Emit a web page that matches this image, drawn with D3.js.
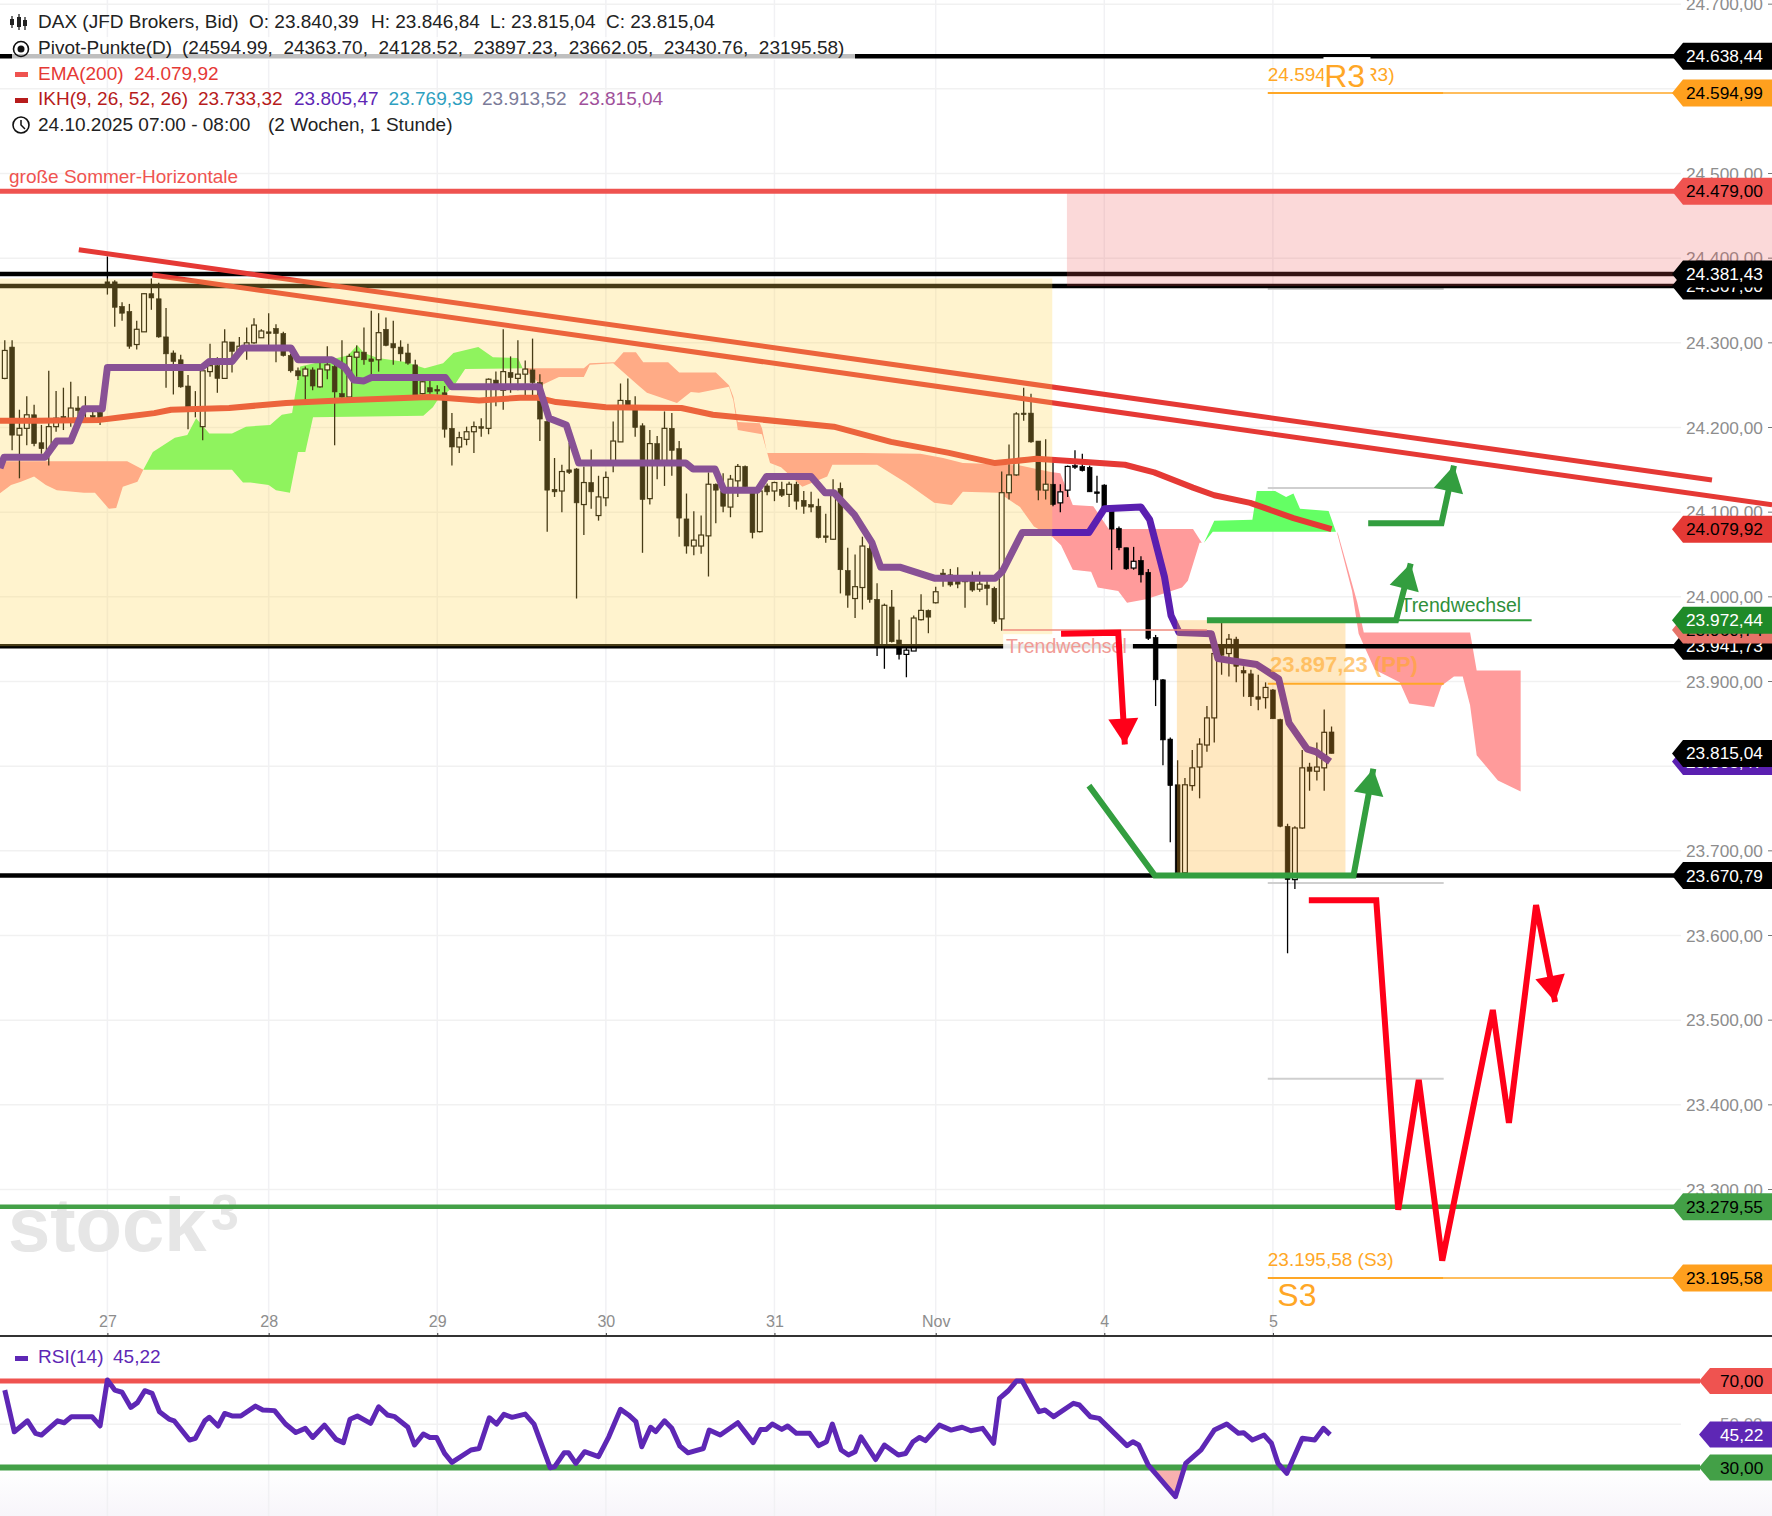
<!DOCTYPE html>
<html>
<head>
<meta charset="utf-8">
<title>DAX</title>
<script src="https://d3js.org/d3.v7.min.js"></script>
<style>
html, body { margin: 0; padding: 0; background: #fff; }
svg { display: block; }
text { font-family: "Liberation Sans", sans-serif; white-space: pre; }
</style>
</head>
<body>
<div id="chart"></div>
<script>
// hourly candles, bar number = position in the list
var candleOpen = [24258,24295,24191,24199,24215,24182,24171,24201,24213,24210,24223,24222,24214,24218,24372,24372,24343,24337,24298,24313,24358,24352,24307,24288,24280,24249,24222,24201,24266,24273,24258,24301,24291,24295,24300,24306,24313,24317,24311,24285,24267,24261,24268,24248,24268,24272,24240,24236,24283,24289,24281,24280,24316,24299,24295,24288,24274,24240,24247,24245,24241,24199,24177,24186,24195,24201,24199,24256,24244,24265,24258,24263,24268,24253,24207,24127,24125,24150,24151,24109,24135,24096,24117,24158,24183,24232,24221,24202,24116,24181,24161,24199,24175,24092,24060,24060,24072,24133,24125,24106,24137,24154,24125,24077,24131,24125,24127,24121,24133,24114,24109,24107,24072,24068,24128,24031,23998,24011,24057,23997,23942,23988,23949,23932,23936,23973,23984,23993,24028,24026,24024,24018,24018,24009,24014,24010,23974,24123,24144,24217,24217,24184,24126,24133,24111,24126,24155,24154,24153,24124,24132,24103,24081,24058,24034,24043,24029,23952,23902,23832,23778,23674,23777,23799,23825,23857,23943,23933,23950,23913,23909,23882,23881,23890,23855,23729,23666,23727,23799,23794,23798,23840.39];
var candleHigh = [24303,24303,24221,24237,24227,24203,24267,24243,24247,24254,24237,24237,24222,24224,24402,24374,24348,24346,24326,24359,24376,24371,24341,24291,24286,24262,24243,24267,24299,24283,24316,24301,24307,24318,24329,24316,24335,24322,24313,24287,24271,24272,24271,24283,24296,24281,24303,24287,24297,24318,24338,24335,24330,24326,24303,24299,24280,24262,24262,24250,24249,24217,24195,24201,24207,24211,24258,24266,24316,24284,24303,24279,24305,24263,24213,24164,24156,24182,24152,24154,24174,24143,24148,24207,24252,24258,24237,24205,24197,24190,24219,24217,24184,24122,24101,24096,24147,24134,24146,24144,24157,24155,24126,24130,24134,24136,24136,24136,24136,24125,24124,24116,24098,24139,24135,24058,24050,24071,24067,24016,23992,24008,23973,23942,23978,24003,23985,24012,24033,24033,24035,24024,24030,24030,24020,24012,24148,24180,24218,24247,24240,24184,24186,24165,24133,24155,24173,24169,24155,24143,24133,24105,24083,24058,24059,24048,24033,23955,23903,23834,23807,23786,23819,23833,23871,23935,23970,23956,23953,23918,23914,23908,23899,23891,23856,23732,23729,23819,23804,23828,23867,23846.84];
var candleLow = [24257,24173,24140,24179,24178,24169,24155,24195,24197,24201,24206,24206,24207,24203,24357,24319,24326,24293,24292,24313,24339,24306,24247,24239,24247,24198,24212,24185,24260,24241,24258,24265,24287,24280,24299,24306,24297,24277,24284,24265,24256,24232,24244,24247,24257,24179,24235,24235,24260,24274,24262,24266,24296,24274,24278,24274,24237,24239,24240,24239,24188,24155,24170,24179,24170,24189,24192,24225,24221,24241,24244,24238,24237,24184,24077,24118,24100,24145,23998,24073,24104,24090,24107,24147,24183,24221,24189,24052,24109,24139,24131,24143,24071,24051,24049,24051,24024,24087,24100,24094,24118,24126,24069,24076,24120,24113,24118,24106,24103,24098,24100,24069,24064,24067,24004,23987,23975,23985,23993,23930,23915,23946,23926,23905,23936,23972,23957,23992,24012,24012,24010,23987,24006,24006,23990,23968,23960,24115,24143,24208,24182,24114,24115,24107,24100,24118,24151,24148,24124,24111,24105,24032,24055,24032,24032,24017,23949,23871,23801,23710,23673,23673,23771,23762,23817,23828,23908,23906,23899,23882,23871,23866,23868,23856,23728,23579,23655,23726,23771,23783,23771,23815.04];
var candleClose = [24291,24191,24199,24215,24181,24175,24201,24211,24210,24223,24220,24221,24212,24210,24367,24342,24335,24296,24316,24358,24353,24307,24287,24278,24248,24223,24220,24267,24273,24258,24301,24290,24296,24300,24321,24314,24311,24311,24285,24267,24261,24269,24249,24269,24274,24242,24236,24284,24289,24280,24278,24312,24297,24294,24287,24276,24238,24254,24242,24243,24198,24177,24188,24195,24201,24199,24257,24251,24266,24259,24263,24269,24253,24210,24126,24124,24148,24147,24111,24135,24124,24118,24141,24184,24232,24221,24200,24115,24181,24161,24199,24173,24093,24060,24067,24073,24133,24126,24107,24139,24154,24130,24076,24125,24124,24135,24120,24133,24113,24107,24106,24070,24070,24125,24032,24002,24012,24060,23997,23942,23990,23947,23932,23937,23975,23984,23976,24006,24021,24014,24015,24022,24008,24015,24010,23971,24123,24144,24216,24216,24183,24126,24133,24109,24124,24154,24153,24149,24124,24122,24106,24080,24058,24033,24042,24026,23951,23902,23831,23777,23674,23778,23798,23826,23857,23933,23931,23950,23918,23910,23882,23879,23893,23856,23729,23666,23727,23798,23794,23799,23840,23815.04];

// [bar, price]
var emaLine = [[-0.65,24208],[4.3,24208],[13,24209],[15.9,24212],[20.4,24217],[22.7,24221],[30.6,24223],[38.4,24229],[45.6,24232],[57.9,24236],[59.8,24235],[64.7,24232],[70.3,24235],[72.8,24235],[75.2,24230],[82,24224],[92.3,24223],[96.6,24215],[113.1,24201],[120.9,24183],[128.8,24170],[135.1,24158],[139.5,24162],[140.7,24163],[147.9,24159],[152.8,24156],[156.8,24147],[162.1,24129],[165,24120],[169.9,24111],[175.8,24093],[181,24079.92]];
var ikhLine = [[-0.65,24152],[-0.1,24165],[5.5,24165],[7.1,24184],[9,24184],[10.8,24222],[13.3,24222],[14,24271],[26.9,24271],[27.9,24278],[31,24278],[32.5,24294],[39.05,24294],[40,24280],[44.6,24280],[46.4,24271],[47.6,24256],[49,24255],[50,24259],[60.1,24259],[61,24248],[72.9,24248],[74.25,24211],[76.6,24203],[78.3,24158],[92.9,24158],[93.9,24151],[96.9,24151],[98.1,24126],[102.7,24126],[103.9,24142],[110,24142],[111.9,24123],[113.1,24123],[115.9,24097],[118.3,24064],[119.5,24035],[122.1,24035],[126.8,24022],[135.1,24022],[136.1,24030],[138.8,24076],[147.9,24076],[150,24104],[155,24106],[156.2,24091],[158.2,24024],[159.1,23978],[160.2,23958],[164.6,23956.5],[165.5,23927],[170.8,23920],[173.8,23903],[175.2,23851],[177.7,23820],[178.9,23817],[180.8,23805.47]];

var cloudRed1 = [[-1,24160],[16.7,24160],[18.9,24150],[18.1,24136],[16.1,24130],[15.2,24105],[14.2,24104],[12.3,24123],[10.8,24123],[7.1,24126],[5.6,24132],[4,24142],[2.2,24136],[0.85,24132],[-1,24120]];
var cloudGreen1 = [[18.9,24150],[20.2,24171],[23.2,24188],[24.9,24191],[26.1,24211],[27.9,24193],[31,24193],[32.9,24201],[36.2,24203],[37.8,24215],[39.2,24217],[39.9,24254],[40.3,24272],[46.8,24285],[48.1,24297],[49,24288],[50.9,24282],[54.9,24277],[55.8,24274],[57.3,24270],[59.8,24276],[61.2,24288],[64.6,24295],[66.6,24283],[70,24282],[70.6,24271],[70.6,24270],[62.8,24269],[61.2,24248],[59,24232],[58.4,24224],[57.1,24214],[42.05,24212],[41,24171],[40,24171],[38.9,24123],[37,24126],[36,24132],[33.5,24135],[32.5,24135],[31,24150]];
var cloudRed2 = [[70.8,24270],[79,24270],[79.8,24276],[83.2,24277],[84.4,24289],[86.1,24289],[87.1,24277],[90.5,24277],[92,24265],[97,24265],[98.8,24250],[99.4,24236],[100,24206.5],[103,24205],[103.3,24199],[104,24170],[116.7,24170],[124.9,24169],[128,24164],[130.7,24158],[134.8,24157],[138.5,24155],[142.7,24147.5],[144,24146],[145.7,24108.6],[148.5,24107],[150.6,24080],[162.1,24080],[163.3,24064],[163,24064],[161.4,24019],[160.6,24011],[155.7,23997],[153.1,23993],[151.9,24007],[149.1,24011],[148.2,24029.6],[145.7,24032],[144.1,24061],[142.9,24071],[140.4,24083],[138.5,24106],[135.6,24123],[130.7,24124],[129.2,24108.6],[126.8,24111],[123,24134.5],[119,24156],[112.9,24156],[112.2,24142],[108.8,24130],[105.9,24153],[104.4,24158],[103.3,24192],[100,24197],[99.4,24232],[98.8,24248],[94.7,24241],[93.6,24242],[91.7,24229],[87.6,24241],[86.4,24250],[83,24276],[79.8,24274],[79,24259.5],[75.6,24259.5],[73.2,24250]];
var cloudGreen2 = [[163.6,24064],[165,24090],[170.2,24091],[170.8,24125],[173.3,24125],[174.8,24118],[175.8,24122],[176.7,24104],[180.6,24101.5],[181.6,24077],[164.8,24077]];
var cloudRed3 = [[181.8,24077],[183,24040],[184.5,23994],[185.4,23958],[199.9,23958],[200.8,23913],[206.8,23913],[206.8,23770],[203.7,23783],[200.8,23813],[199.9,23872],[198.9,23906],[197.7,23906],[196,23895],[195,23870],[191.6,23874],[190.3,23899],[186.9,23914],[184.7,23956.5],[183.8,24007],[181.8,24074]];

var rsiLine = [[0,65.8],[1.3,46.5],[3.1,51.6],[4.2,45.8],[5,45],[7.2,51.6],[8.1,50.7],[9.1,53.5],[11.9,53.5],[13,49.2],[14,70.5],[15,65.8],[16,64.8],[17.2,57.8],[18.1,60],[19.1,65.5],[20.1,64.3],[21.1,55.8],[22.4,52.4],[23.1,51.6],[25.2,42.7],[26,43.5],[27.3,51.6],[27.9,53.2],[29.1,49.2],[30,55],[31.1,53.8],[32.2,53.8],[34.2,58.4],[35.2,56.6],[36.8,56.3],[38.3,50.1],[39.7,46.2],[41,48.1],[42,43.9],[43.6,49.6],[45.2,43],[46.2,41.5],[47.1,52.3],[48.1,53.8],[49.9,50.4],[51,58.1],[52.2,54.3],[53.2,53.5],[55,48.6],[55.9,40.4],[57.1,45.5],[58,43.9],[58.9,43.9],[60,36.5],[61,32.4],[63.6,38.1],[64.7,38.8],[66.1,53],[67.1,50.1],[68.1,54.6],[69.2,53.2],[71,54.7],[72.2,50.1],[74.4,29.9],[75,30.3],[76.3,36.8],[76.9,36.8],[77.9,31.9],[79.1,37.3],[81,35],[82.4,44.2],[84,56.9],[85.1,54.3],[86.1,51.2],[86.9,39.6],[88.1,48.6],[88.8,46.6],[90,51.6],[91,48.1],[92.1,39.9],[93.2,36.8],[95.3,38.8],[96.1,47.3],[97.6,45],[100,50.7],[102.1,41.5],[103.1,47.6],[103.9,47.6],[104.7,50.1],[106,47.6],[106.8,49.2],[108,45.8],[109.8,45.8],[111,40.1],[112.1,41.9],[112.9,50.1],[114.1,38.1],[115.1,35.8],[116,37.3],[116.8,44.2],[118.8,33.7],[120,40.4],[121.9,35.8],[122.9,36.5],[123.9,41.9],[124.8,43.9],[125.6,42.4],[127.5,49.6],[129.1,47.3],[130.6,48.6],[131.8,47],[133.4,48.1],[134.9,41.2],[135.7,62],[136.9,65.5],[138,70],[138.8,70],[141.1,55.8],[141.9,56.6],[143.1,53.5],[145.8,59.7],[146.6,58.9],[148.1,53.5],[149.3,52.7],[153.1,40.1],[153.9,41.9],[154.7,40.4],[156,31.1],[159.7,16.5],[161.1,31.9],[163.2,38.1],[165,47.3],[166.7,50.1],[168.3,45.8],[169,46.1],[170.2,42.7],[171.8,45],[172.8,41.2],[173.7,31.9],[174.9,27.3],[177,43.5],[178.7,42.7],[179.9,48.1],[180.8,45.22]];

// axes
var dayBars = [14,36,59,82,105,127,150,173];
var dayLabels = ["27","28","29","30","31","Nov","4","5"];
var priceTicks = [24700,24600,24500,24400,24300,24200,24100,24000,23900,23800,23700,23600,23500,23400,23300,23200];

// drawn trend lines and arrows
var trendUpper = [[10.1,24410],[232.9,24138]];
var trendLower = [[20.15,24380],[241.1,24108.6]];
var arrowGreenTop = [[186,24087],[196,24087],[197.7,24155]];
var arrowGreenMid = [[164,23972.44],[189.8,23972.44],[191.8,24039.5]];
var arrowGreenLow = [[147.9,23777],[156.9,23670.79],[184,23670.79],[186.7,23797]];
var arrowRedDown = [[144.1,23956.5],[151.9,23957.7],[152.8,23825.6]];
var arrowRedZigzag = [[177.9,23641.7],[187.1,23641.7],[190.1,23276],[192.9,23429.5],[196.1,23216],[203,23512],[205.2,23378.8],[208.9,23635.8],[211.5,23521.5]];

// pivot points
var pivotGray = [24363.70,24128.52,23662.05,23430.76];
var pivotOrange = [24594.99,23897.23,23195.58];
var pivotFrom = 172.3, pivotTo = 196.3;

var width = 1772, height = 1516;

var x = d3.scaleLinear().domain([14,173]).range([107.4,1272.9]);
var y = d3.scaleLinear().domain([24500,23300]).range([173.5,1189.5]);
var yRsi = d3.scaleLinear().domain([70,30]).range([1381,1467.5]);

var de = d3.formatLocale({decimal:",", thousands:".", grouping:[3], currency:["",""]});
var fmt = de.format(",.2f");

var svg = d3.select("#chart").append("svg").attr("width", width).attr("height", height);

var defs = svg.append("defs");
var grad = defs.append("linearGradient").attr("id","fade").attr("x1",0).attr("x2",0).attr("y1",0).attr("y2",1);
grad.append("stop").attr("offset",0).attr("stop-color","#fff");
grad.append("stop").attr("offset",1).attr("stop-color","#f7f5fa");
defs.append("clipPath").attr("id","oversold").append("rect")
    .attr("x",0).attr("width",width).attr("y",yRsi(30)).attr("height",height-yRsi(30));

svg.append("rect").attr("x",0).attr("y",1470).attr("width",width).attr("height",46).attr("fill","url(#fade)");

// grid
svg.selectAll(".vgrid").data(dayBars).enter().append("line")
    .attr("x1",function(d){ return x(d); }).attr("x2",function(d){ return x(d); })
    .attr("y1",0).attr("y2",height)
    .attr("stroke","#f1f1f4").attr("stroke-width",1.5);
svg.selectAll(".hgrid").data(priceTicks.slice(0,-1)).enter().append("line")
    .attr("x1",0).attr("x2",1681)
    .attr("y1",function(d){ return y(d); }).attr("y2",function(d){ return y(d); })
    .attr("stroke","#f1f1f1").attr("stroke-width",1.5);
svg.append("line").attr("x1",0).attr("x2",1681).attr("y1",yRsi(50)).attr("y2",yRsi(50))
    .attr("stroke","#f1f1f1").attr("stroke-width",1.5);

// price axis
var yAxis = svg.append("g").attr("transform","translate(1686,0)")
    .call(d3.axisRight(y).tickValues(priceTicks.slice(0,-1)).tickSize(0).tickPadding(0).tickFormat(fmt));
yAxis.select(".domain").remove();
yAxis.selectAll("text").attr("font-size",17.3).attr("fill","#8d8d8d").style("font-family",'"Liberation Sans"');
svg.selectAll(".ydash").data(priceTicks.slice(0,-1)).enter().append("line")
    .attr("x1",1768).attr("x2",1772)
    .attr("y1",function(d){ return y(d); }).attr("y2",function(d){ return y(d); })
    .attr("stroke","#777");
svg.append("text").attr("x",1720).attr("y",yRsi(50)+6).attr("font-size",17).attr("fill","#999").text("50,00");

// watermark
svg.append("text").attr("x",8).attr("y",1251).attr("font-size",76).attr("font-weight","bold")
    .attr("fill","#e6e6e6").text("stock");
svg.append("text").attr("x",211).attr("y",1230).attr("font-size",50).attr("font-weight","bold")
    .attr("fill","#e6e6e6").text("3");

var lineGen = d3.line().x(function(d){ return x(d[0]); }).y(function(d){ return y(d[1]); });

// ichimoku cloud
var cloudGroup = svg.append("g");
[[cloudRed1,"#ff9b9b"],[cloudGreen1,"#64ff64"],[cloudRed2,"#ff9b9b"],[cloudGreen2,"#64ff64"],[cloudRed3,"#ff9b9b"]].forEach(function(c){
    cloudGroup.append("path").attr("d", lineGen(c[0]) + "Z").attr("fill", c[1]);
});

// pivot segments
svg.selectAll(".pivotGray").data(pivotGray).enter().append("line")
    .attr("x1",x(pivotFrom)).attr("x2",x(pivotTo))
    .attr("y1",function(d){ return y(d); }).attr("y2",function(d){ return y(d); })
    .attr("stroke","#cfcfcf").attr("stroke-width",2);
svg.selectAll(".pivotOrange").data(pivotOrange).enter().append("line")
    .attr("x1",x(pivotFrom)).attr("x2",x(pivotTo))
    .attr("y1",function(d){ return y(d); }).attr("y2",function(d){ return y(d); })
    .attr("stroke","#ffa726").attr("stroke-width",2);

// candles
var candles = svg.append("g").selectAll("g").data(candleOpen).enter().append("g");
candles.append("line")
    .attr("x1",function(d,i){ return x(i); }).attr("x2",function(d,i){ return x(i); })
    .attr("y1",function(d,i){ return y(candleHigh[i]); }).attr("y2",function(d,i){ return y(candleLow[i]); })
    .attr("stroke","#000").attr("stroke-width",1.3);
candles.append("rect")
    .attr("x",function(d,i){ return x(i)-2.4; }).attr("width",4.8)
    .attr("y",function(d,i){ return y(Math.max(d,candleClose[i])); })
    .attr("height",function(d,i){ return Math.max(1.5, y(Math.min(d,candleClose[i]))-y(Math.max(d,candleClose[i]))); })
    .attr("fill",function(d,i){ return candleClose[i]>d ? "#fff" : "#000"; })
    .attr("stroke","#000").attr("stroke-width",function(d,i){ return candleClose[i]>d ? 1.2 : 0.6; });

// horizontal levels
function hline(v,color,w,x1,x2) {
    svg.append("line").attr("x1",x1===undefined?0:x1).attr("x2",x2===undefined?1680:x2)
        .attr("y1",y(v)).attr("y2",y(v)).attr("stroke",color).attr("stroke-width",w);
}
hline(24638.44,"#000",4.5);
hline(24594.99,"#ffa726",1.5,x(pivotTo));
hline(23195.58,"#ffa726",1.5,x(pivotTo));
hline(24381.43,"#000",4.5);
hline(24367,"#000",4.5);
hline(23941.73,"#000",4.5);
hline(23670.79,"#000",4.5);

// trend lines, EMA, IKH
svg.append("path").attr("d",lineGen(trendUpper)).attr("fill","none").attr("stroke","#e53935").attr("stroke-width",5);
svg.append("path").attr("d",lineGen(trendLower)).attr("fill","none").attr("stroke","#e53935").attr("stroke-width",5);
svg.append("path").attr("d",lineGen(emaLine)).attr("fill","none").attr("stroke","#e53935").attr("stroke-width",6).attr("stroke-linejoin","round");
svg.append("path").attr("d",lineGen(ikhLine)).attr("fill","none").attr("stroke","#5a1fb0").attr("stroke-width",7).attr("stroke-linejoin","round");

// boxes lie over everything drawn so far
function box(b1,b2,p1,p2,color) {
    svg.append("rect").attr("x",Math.max(0,x(b1))).attr("width",Math.min(width,x(b2))-Math.max(0,x(b1)))
        .attr("y",y(p1)).attr("height",y(p2)-y(p1)).attr("fill",color);
}
box(-1,142.9,24376,23941.73,"rgba(255,213,79,0.28)");
box(159.9,182.9,23972.44,23670.79,"rgba(255,180,50,0.3)");
box(144.9,300,24479,24367,"rgba(239,83,80,0.22)");

hline(24479,"#ef5350",5);
hline(23279.55,"#43a047",4.5);

// legend and Trendwechsel labels sit on a half white plate
svg.append("rect").attr("x",12).attr("y",37).attr("width",843).attr("height",23).attr("fill","rgba(255,255,255,0.75)");
svg.append("rect").attr("x",x(136.2)).attr("y",y(23941.73)-12).attr("width",x(153.9)-x(136.2)).attr("height",24).attr("fill","rgba(255,255,255,0.9)");

// thin Trendwechsel lines
hline(23960.74,"#ef8a7c",1.5,x(136.2),x(164));
hline(23972.44,"#2f9e3a",2,x(190),x(208.3));
svg.append("text").attr("x",x(136.6)).attr("y",y(23941.73)+7).attr("font-size",19.5).attr("fill","#f19a94").text("Trendwechsel");
svg.append("text").attr("x",x(190.4)).attr("y",y(23972.44)-8).attr("font-size",19.5).attr("fill","#2f8f3a").text("Trendwechsel");

// pivot texts
svg.append("text").attr("x",x(172.3)).attr("y",y(24594.99)-12).attr("font-size",19).attr("fill","#ffa726").text("24.594,99 (R3)");
svg.append("rect").attr("x",x(179.9)).attr("y",y(24594.99)-36).attr("width",47).attr("height",30).attr("fill","#fff");
svg.append("text").attr("x",x(180)).attr("y",y(24594.99)-6).attr("font-size",32).attr("fill","#ffa726").text("R3");
svg.append("text").attr("x",x(172.6)).attr("y",y(23897.23)-12).attr("font-size",22).attr("font-weight","bold")
    .attr("fill","#ffa726").attr("opacity",0.6).text("23.897,23 (PP)");
svg.append("text").attr("x",x(172.3)).attr("y",y(23195.58)-12).attr("font-size",19).attr("fill","#ffa726").text("23.195,58 (S3)");
svg.append("text").attr("x",x(173.6)).attr("y",y(23195.58)+28).attr("font-size",32).attr("fill","#ffa726").text("S3");
svg.append("text").attr("x",9).attr("y",y(24479)-8).attr("font-size",19).attr("fill","#ef5350").text("große Sommer-Horizontale");

// hand drawn arrows
function arrow(pts,color,w) {
    svg.append("path").attr("d",lineGen(pts)).attr("fill","none").attr("stroke",color)
        .attr("stroke-width",w).attr("stroke-linejoin","miter");
    var a = pts[pts.length-2], b = pts[pts.length-1];
    var ang = Math.atan2(y(b[1])-y(a[1]), x(b[0])-x(a[0]));
    var tx = x(b[0]), ty = y(b[1]), len = 26, half = 15;
    var bx = tx-len*Math.cos(ang), by = ty-len*Math.sin(ang);
    svg.append("path").attr("fill",color)
        .attr("d","M"+tx+","+ty+"L"+(bx-half*Math.sin(ang))+","+(by+half*Math.cos(ang))+"L"+(bx+half*Math.sin(ang))+","+(by-half*Math.cos(ang))+"Z");
}
arrow(arrowGreenTop,"#339e3f",6);
arrow(arrowGreenMid,"#339e3f",6);
arrow(arrowGreenLow,"#339e3f",6);
arrow(arrowRedDown,"#ff0019",6);
arrow(arrowRedZigzag,"#ff0019",6);

// time axis
var xAxis = svg.append("g").attr("transform","translate(0,1336)")
    .call(d3.axisTop(x).tickValues(dayBars).tickSize(3).tickPadding(6).tickFormat(function(d,i){ return dayLabels[i]; }));
xAxis.select(".domain").remove();
xAxis.selectAll("text").attr("font-size",16).attr("fill","#8d8d8d").style("font-family",'"Liberation Sans"');
xAxis.selectAll("line").attr("stroke","#333");
svg.append("line").attr("x1",0).attr("x2",width).attr("y1",1336).attr("y2",1336).attr("stroke","#333").attr("stroke-width",2);

// RSI pane
var rsiGen = d3.line().x(function(d){ return x(d[0]); }).y(function(d){ return yRsi(d[1]); });
svg.append("path").attr("clip-path","url(#oversold)").attr("fill","rgba(239,83,80,0.45)")
    .attr("d",rsiGen(rsiLine.filter(function(d){ return d[0]>155 && d[0]<162; }))+"Z");
[[70,"#ef5350",5],[30,"#43a047",6]].forEach(function(l){
    svg.append("line").attr("x1",0).attr("x2",1700).attr("y1",yRsi(l[0])).attr("y2",yRsi(l[0])).attr("stroke",l[1]).attr("stroke-width",l[2]);
});
svg.append("path").attr("d",rsiGen(rsiLine)).attr("fill","none").attr("stroke","#5e27b5").attr("stroke-width",5).attr("stroke-linejoin","round");

// value flags
function flag(yPos,txt,bg,fg,left) {
    var l = left===undefined ? 1672 : left;
    var g = svg.append("g");
    g.append("path").attr("fill",bg)
        .attr("d","M"+l+","+yPos+"L"+(l+11)+","+(yPos-13.5)+"L"+width+","+(yPos-13.5)+"L"+width+","+(yPos+13.5)+"L"+(l+11)+","+(yPos+13.5)+"Z");
    g.append("text").attr("x",width-86).attr("y",yPos+6).attr("font-size",17.3).attr("fill",fg).text(txt);
}
[[24638.44,"#000","#fff"],[24594.99,"#ffa01e","#000"],[24479,"#ef5350","#000"],[24367,"#000","#fff"],[24381.43,"#000","#fff"],
 [24079.92,"#e53935","#000"],[23941.73,"#000","#fff"],[23960.74,"#e57368","#000"],[23972.44,"#1f8a28","#fff"],
 [23805.47,"#5a1fb0","#fff"],[23815.04,"#000","#fff"],[23670.79,"#000","#fff"],[23279.55,"#43a047","#000"],[23195.58,"#ffa01e","#000"]
].forEach(function(f){ flag(y(f[0]),fmt(f[0]),f[1],f[2]); });
function rsiFlag(v,bg,fg) {
    var yPos = yRsi(v), l = 1699, g = svg.append("g");
    g.append("path").attr("fill",bg)
        .attr("d","M"+l+","+yPos+"L"+(l+11)+","+(yPos-13)+"L"+width+","+(yPos-13)+"L"+width+","+(yPos+13)+"L"+(l+11)+","+(yPos+13)+"Z");
    g.append("text").attr("x",1720).attr("y",yPos+6).attr("font-size",17.3).attr("fill",fg).text(fmt(v));
}
rsiFlag(70,"#ef5350","#000");
rsiFlag(45.22,"#5e27b5","#fff");
rsiFlag(30,"#43a047","#000");

// legend
function legend(xPos,yPos,txt,color) {
    svg.append("text").attr("x",xPos).attr("y",yPos).attr("font-size",19).attr("fill",color).text(txt);
}
legend(38,28,"DAX (JFD Brokers, Bid)","#222");
legend(249,28,"O: 23.840,39","#222");
legend(371,28,"H: 23.846,84","#222");
legend(490,28,"L: 23.815,04","#222");
legend(606,28,"C: 23.815,04","#222");
legend(38,54,"Pivot-Punkte(D)","#222");
legend(182,54,"(24594.99,  24363.70,  24128.52,  23897.23,  23662.05,  23430.76,  23195.58)","#222");
legend(38,80,"EMA(200)","#e53935");
legend(134,80,"24.079,92","#e53935");
legend(38,105,"IKH(9, 26, 52, 26)","#b71c1c");
legend(198,105,"23.733,32","#b71c1c");
legend(294,105,"23.805,47","#5e27b5");
legend(388.6,105,"23.769,39","#2e9fc0");
legend(482,105,"23.913,52","#7b7b99");
legend(578.6,105,"23.815,04","#a0509a");
legend(38,131,"24.10.2025 07:00 - 08:00","#222");
legend(268,131,"(2 Wochen, 1 Stunde)","#222");
legend(38,1363,"RSI(14)","#5e27b5");
legend(113,1363,"45,22","#5e27b5");

// legend glyphs
[[12,16,28,19,25],[19,14,30,17,27],[25,17,30,20,26]].forEach(function(c){
    svg.append("line").attr("x1",c[0]).attr("x2",c[0]).attr("y1",c[1]).attr("y2",c[2]).attr("stroke","#222").attr("stroke-width",1.3);
    svg.append("rect").attr("x",c[0]-2).attr("y",c[3]).attr("width",4).attr("height",c[4]-c[3]).attr("fill","#222");
});
svg.append("circle").attr("cx",21).attr("cy",49).attr("r",7.5).attr("fill","none").attr("stroke","#111").attr("stroke-width",1.6);
svg.append("circle").attr("cx",21).attr("cy",49).attr("r",3.5).attr("fill","#111");
svg.append("rect").attr("x",15).attr("y",72).attr("width",13).attr("height",5).attr("fill","#ef5350");
svg.append("rect").attr("x",15).attr("y",98).attr("width",13).attr("height",5).attr("fill","#b71c1c");
svg.append("rect").attr("x",15).attr("y",1356).attr("width",13).attr("height",5).attr("fill","#5e27b5");
svg.append("circle").attr("cx",21).attr("cy",125).attr("r",8).attr("fill","none").attr("stroke","#111").attr("stroke-width",1.6);
svg.append("path").attr("d","M21,120V125L25,129").attr("fill","none").attr("stroke","#111").attr("stroke-width",1.5);
svg.append("rect").attr("x",0).attr("y",54).attr("width",10).attr("height",4).attr("fill","#000");
</script>
</body>
</html>
